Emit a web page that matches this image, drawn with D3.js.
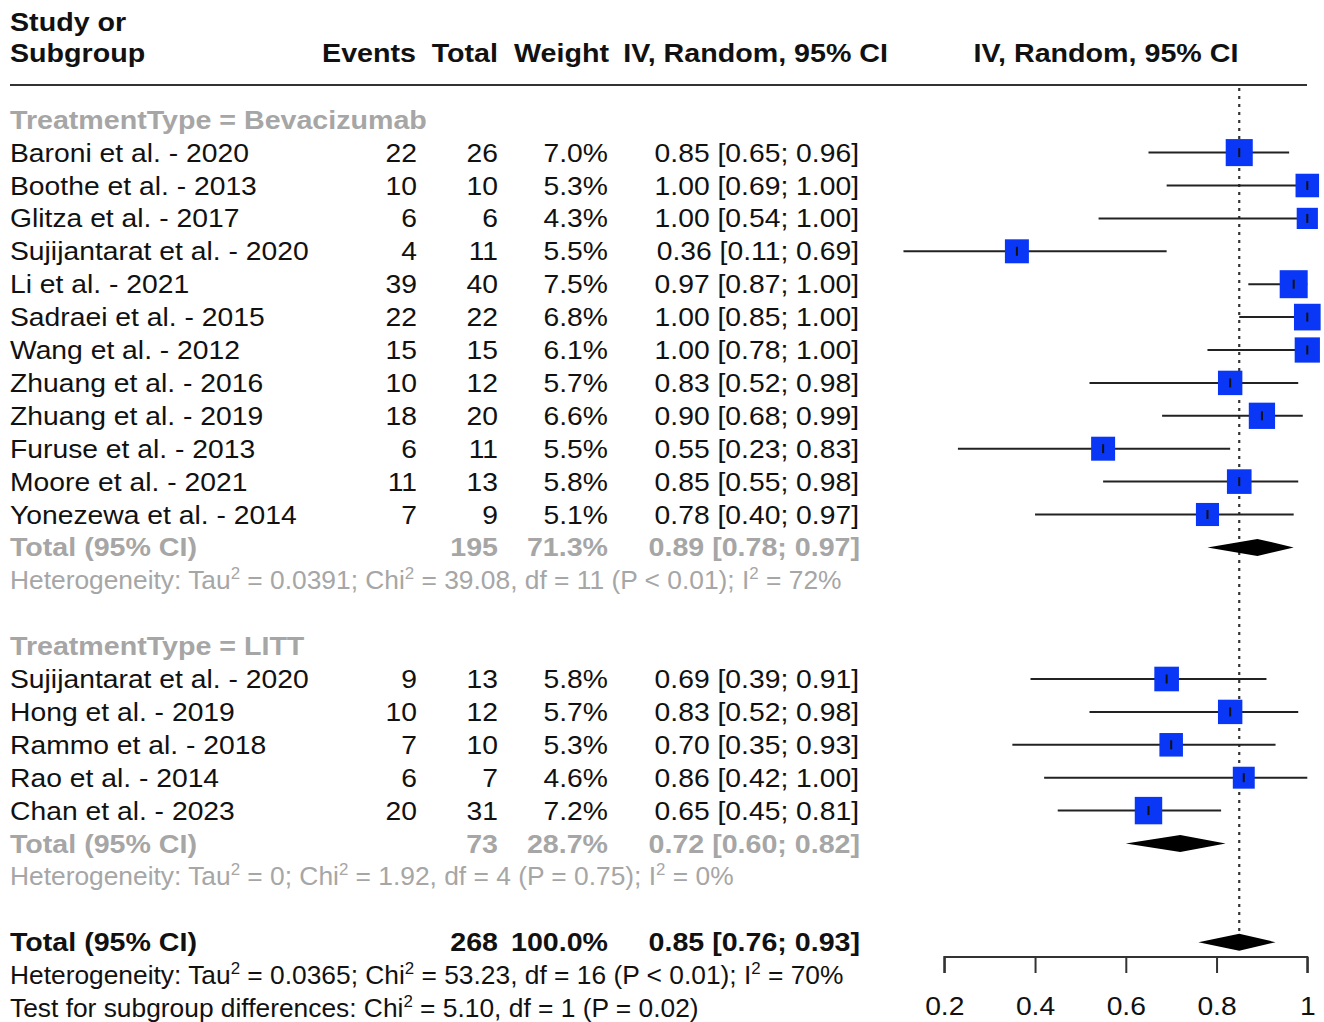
<!DOCTYPE html>
<html>
<head>
<meta charset="utf-8">
<script src="https://cdn.jsdelivr.net/npm/d3@7/dist/d3.min.js"></script>
<style>
  html, body { margin: 0; padding: 0; background: #fff; }
  svg { display: block; font-family: "Liberation Sans", Arial, Helvetica, sans-serif; }
</style>
</head>
<body>
<svg id="chart" width="1324" height="1022"></svg>
<script>
// ---------------- DATA ----------------
const bevStudies = ["Baroni et al. - 2020","Boothe et al. - 2013","Glitza et al. - 2017","Sujijantarat et al. - 2020","Li et al. - 2021","Sadraei et al. - 2015","Wang et al. - 2012","Zhuang et al. - 2016","Zhuang et al. - 2019","Furuse et al. - 2013","Moore et al. - 2021","Yonezewa et al. - 2014"];
const bevEvents  = [22,10,6,4,39,22,15,10,18,6,11,7];
const bevTotals  = [26,10,6,11,40,22,15,12,20,11,13,9];
const bevWeights = [7.0,5.3,4.3,5.5,7.5,6.8,6.1,5.7,6.6,5.5,5.8,5.1];
const bevEst     = [0.85,1.00,1.00,0.36,0.97,1.00,1.00,0.83,0.90,0.55,0.85,0.78];
const bevLo      = [0.65,0.69,0.54,0.11,0.87,0.85,0.78,0.52,0.68,0.23,0.55,0.40];
const bevHi      = [0.96,1.00,1.00,0.69,1.00,1.00,1.00,0.98,0.99,0.83,0.98,0.97];

const littStudies = ["Sujijantarat et al. - 2020","Hong et al. - 2019","Rammo et al. - 2018","Rao et al. - 2014","Chan et al. - 2023"];
const littEvents  = [9,10,7,6,20];
const littTotals  = [13,12,10,7,31];
const littWeights = [5.8,5.7,5.3,4.6,7.2];
const littEst     = [0.69,0.83,0.70,0.86,0.65];
const littLo      = [0.39,0.52,0.35,0.42,0.45];
const littHi      = [0.91,0.98,0.93,1.00,0.81];

const groupLabels = ["TreatmentType = Bevacizumab","TreatmentType = LITT"];
const groupN      = [195,73];
const groupW      = [71.3,28.7];
const groupEst    = [0.89,0.72];
const groupLo     = [0.78,0.60];
const groupHi     = [0.97,0.82];
const groupTau2   = ["0.0391","0"];
const groupChi2   = ["39.08","1.92"];
const groupDf     = [11,4];
const groupP      = ["P < 0.01","P = 0.75"];
const groupI2     = ["72%","0%"];

const overallN = 268, overallW = 100.0, overallEst = 0.85, overallLo = 0.76, overallHi = 0.93;
const overallTau2 = "0.0365", overallChi2 = "53.23", overallDf = 16, overallP = "P < 0.01", overallI2 = "70%";
const testChi2 = "5.10", testDf = 1, testP = "P = 0.02";

const axisTicks = [0.2,0.4,0.6,0.8,1];
const headerCols = ["Events","Total","Weight","IV, Random, 95% CI"];

// ---------------- LAYOUT ----------------
const svg = d3.select("#chart");
const GRAY = "#a6a6a6";
const FS = 25;
const x = d3.scaleLinear().domain([0.2, 1]).range([944.3, 1307.3]);
const yRow = d3.scaleLinear().domain([0, 27]).range([119.7, 1008]);
const sq = d3.scaleSqrt().domain([0, 7.5]).range([0, 28]);
const colEvents = 417, colTotal = 498, colWeight = 608, colCI = 859;
const BASE = 9; // baseline offset from row centre

// measurement helper for horizontal scaling to match reference widths
function measure(parts, weight) {
  const t = svg.append("text").attr("font-size", FS).attr("font-weight", weight);
  fillParts(t, parts);
  const w = t.node().getComputedTextLength();
  t.remove();
  return w;
}
function fillParts(t, parts) {
  if (typeof parts === "string") { t.text(parts); return; }
  let up = false;
  parts.forEach(p => {
    if (typeof p === "string") {
      t.append("tspan").attr("dy", up ? 10 : 0).text(p);
      up = false;
    } else {
      t.append("tspan").attr("font-size", 16).attr("dy", -10).text(p.sup);
      up = true;
    }
  });
}
function hetParts(tau, chi, df, p, i2) {
  return ["Heterogeneity: Tau", {sup:"2"}, " = " + tau + "; Chi", {sup:"2"}, " = " + chi + ", df = " + df + " (" + p + "); I", {sup:"2"}, " = " + i2];
}
const styles = {
  normal:   { weight: "normal", fill: "#111", sx: 239 / measure("Baroni et al. - 2020", "normal") },
  header:   { weight: "bold",   fill: "#111", sx: 265 / measure("IV, Random, 95% CI", "bold") },
  group:    { weight: "bold",   fill: GRAY,   sx: 417 / measure("TreatmentType = Bevacizumab", "bold") },
  subtotal: { weight: "bold",   fill: GRAY,   sx: 187 / measure("Total (95% CI)", "bold") },
  het:      { weight: "normal", fill: GRAY,   sx: 832 / measure(hetParts("0.0391","39.08",11,"P < 0.01","72%"), "normal") },
};
styles.overall = { weight: "bold", fill: "#111", sx: styles.subtotal.sx };
styles.hetAll  = { weight: "normal", fill: "#111", sx: styles.het.sx };

function txt(xp, yp, parts, style, anchor) {
  const s = styles[style];
  const g = svg.append("g").attr("transform", `translate(${xp},${yp}) scale(${s.sx},1)`);
  const t = g.append("text").attr("font-size", FS).attr("font-weight", s.weight)
    .attr("fill", s.fill).attr("text-anchor", anchor || "start");
  fillParts(t, parts);
  return g;
}
const ci = (e, l, h) => `${e.toFixed(2)} [${l.toFixed(2)}; ${h.toFixed(2)}]`;

// ---------------- HEADER ----------------
txt(10, 31, "Study or", "header");
txt(10, 62, "Subgroup", "header");
txt(416, 62, headerCols[0], "header", "end");
txt(498, 62, headerCols[1], "header", "end");
txt(609, 62, headerCols[2], "header", "end");
txt(888, 62, headerCols[3], "header", "end");
txt(1106, 62, headerCols[3], "header", "middle");
svg.append("line").attr("x1", 10).attr("x2", 1307).attr("y1", 85).attr("y2", 85)
  .attr("stroke", "#333").attr("stroke-width", 2);

// reference dotted line at overall estimate
svg.append("line").attr("x1", x(overallEst)).attr("x2", x(overallEst))
  .attr("y1", 88).attr("y2", 952)
  .attr("stroke", "#333").attr("stroke-width", 2.2).attr("stroke-dasharray", "3,5");

// ---------------- STUDIES ----------------
function studyRows(names, ev, tot, w, est, lo, hi, startRow) {
  const rows = names.map((n, i) => ({ n, ev: ev[i], tot: tot[i], w: w[i], est: est[i], lo: lo[i], hi: hi[i], r: startRow + i }));
  rows.forEach(d => {
    const yc = yRow(d.r);
    txt(10, yc + BASE, d.n, "normal");
    txt(colEvents, yc + BASE, String(d.ev), "normal", "end");
    txt(colTotal, yc + BASE, String(d.tot), "normal", "end");
    txt(colWeight, yc + BASE, d.w.toFixed(1) + "%", "normal", "end");
    txt(colCI, yc + BASE, ci(d.est, d.lo, d.hi), "normal", "end");
  });
  const g = svg.append("g");
  g.selectAll("line.ci").data(rows).join("line").attr("class", "ci")
    .attr("x1", d => x(d.lo)).attr("x2", d => x(d.hi))
    .attr("y1", d => yRow(d.r)).attr("y2", d => yRow(d.r))
    .attr("stroke", "#222").attr("stroke-width", 2);
  g.selectAll("rect.sq").data(rows).join("rect").attr("class", "sq")
    .attr("x", d => x(d.est) - sq(d.w) / 2).attr("y", d => yRow(d.r) - sq(d.w) / 2)
    .attr("width", d => sq(d.w)).attr("height", d => sq(d.w))
    .attr("fill", "#0a37f5");
  g.selectAll("line.tk").data(rows).join("line").attr("class", "tk")
    .attr("x1", d => x(d.est)).attr("x2", d => x(d.est))
    .attr("y1", d => yRow(d.r) - 4.5).attr("y2", d => yRow(d.r) + 4.5)
    .attr("stroke", "#111").attr("stroke-width", 2);
}
function diamond(est, lo, hi, r) {
  const yc = yRow(r), h = 8.5;
  svg.append("path")
    .attr("d", `M${x(lo)},${yc} L${x(est)},${yc - h} L${x(hi)},${yc} L${x(est)},${yc + h} Z`)
    .attr("fill", "#000");
}

// Bevacizumab group
txt(10, yRow(0) + BASE, groupLabels[0], "group");
studyRows(bevStudies, bevEvents, bevTotals, bevWeights, bevEst, bevLo, bevHi, 1);
txt(10, yRow(13) + BASE, "Total (95% CI)", "subtotal");
txt(colTotal, yRow(13) + BASE, String(groupN[0]), "subtotal", "end");
txt(colWeight, yRow(13) + BASE, groupW[0].toFixed(1) + "%", "subtotal", "end");
txt(colCI + 1, yRow(13) + BASE, ci(groupEst[0], groupLo[0], groupHi[0]), "subtotal", "end");
diamond(groupEst[0], groupLo[0], groupHi[0], 13);
txt(10, yRow(14) + BASE, hetParts(groupTau2[0], groupChi2[0], groupDf[0], groupP[0], groupI2[0]), "het");

// LITT group
txt(10, yRow(16) + BASE, groupLabels[1], "group");
studyRows(littStudies, littEvents, littTotals, littWeights, littEst, littLo, littHi, 17);
txt(10, yRow(22) + BASE, "Total (95% CI)", "subtotal");
txt(colTotal, yRow(22) + BASE, String(groupN[1]), "subtotal", "end");
txt(colWeight, yRow(22) + BASE, groupW[1].toFixed(1) + "%", "subtotal", "end");
txt(colCI + 1, yRow(22) + BASE, ci(groupEst[1], groupLo[1], groupHi[1]), "subtotal", "end");
diamond(groupEst[1], groupLo[1], groupHi[1], 22);
txt(10, yRow(23) + BASE, hetParts(groupTau2[1], groupChi2[1], groupDf[1], groupP[1], groupI2[1]), "het");

// Overall
txt(10, yRow(25) + BASE, "Total (95% CI)", "overall");
txt(colTotal, yRow(25) + BASE, String(overallN), "overall", "end");
txt(colWeight, yRow(25) + BASE, overallW.toFixed(1) + "%", "overall", "end");
txt(colCI + 1, yRow(25) + BASE, ci(overallEst, overallLo, overallHi), "overall", "end");
diamond(overallEst, overallLo, overallHi, 25);
txt(10, yRow(26) + BASE, hetParts(overallTau2, overallChi2, overallDf, overallP, overallI2), "hetAll");
txt(10, yRow(27) + BASE, ["Test for subgroup differences: Chi", {sup:"2"}, " = " + testChi2 + ", df = " + testDf + " (" + testP + ")"], "hetAll");

// ---------------- AXIS ----------------
const axisG = svg.append("g").attr("transform", "translate(0,957)")
  .call(d3.axisBottom(x).tickValues(axisTicks).tickFormat(d3.format("")).tickSize(16).tickPadding(24));
axisG.select(".domain").attr("stroke", "#333").attr("stroke-width", 2).attr("d", `M${x(0.2)},16V0H${x(1)}V16`);
axisG.selectAll(".tick line").attr("stroke", "#333").attr("stroke-width", 2);
axisG.selectAll(".tick text").attr("font-size", FS).attr("fill", "#111")
  .attr("font-family", "Liberation Sans, Arial, sans-serif")
  .attr("transform", `scale(${styles.normal.sx},1)`).attr("x", 0);
</script>
</body>
</html>
